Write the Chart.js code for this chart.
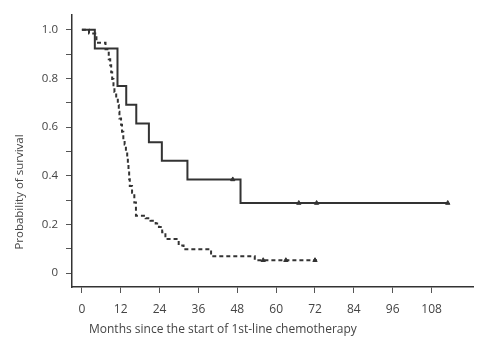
<!DOCTYPE html>
<html>
<head>
<meta charset="utf-8">
<script src="https://cdn.jsdelivr.net/npm/chart.js@4"></script>
<style>
  html, body { margin:0; padding:0; background:#fff; }
  #km { display:block; }
</style>
</head>
<body>
<canvas id="km" width="478" height="340"></canvas>
<script>
// Kaplan-Meier curves, values
const xTicks = [0, 12, 24, 36, 48, 60, 72, 84, 96, 108];
const yTicks = [0, 0.1, 0.2, 0.3, 0.4, 0.5, 0.6, 0.7, 0.8, 0.9, 1.0];

// solid group (n = 13)
const solidTimes = [0, 4, 11, 13.7, 16.8, 20.7, 24.7, 32.6, 49, 113];
const solidSurv  = [1, 0.923, 0.769, 0.692, 0.615, 0.538, 0.462, 0.385, 0.288, 0.288];
const solidCensTimes = [46.6, 67, 72.5, 113];
const solidCensSurv  = [0.385, 0.288, 0.288, 0.288];

// dashed group
const dashTimes = [0, 2.2, 4.5, 7.3, 8.3, 8.75, 9.05, 9.36, 9.76, 10.06, 10.6, 11.1, 11.4, 11.6, 12.1, 12.4, 12.8, 13.2, 13.6, 14.0, 14.2, 14.4, 14.6, 14.8, 15.5, 16.2, 16.7, 19.7, 21.2, 22.8, 23.8, 24.8, 25.8, 29.9, 31.4, 39.9, 53.4, 72.6];
const dashSurv  = [1, 0.985, 0.947, 0.92, 0.879, 0.854, 0.825, 0.798, 0.772, 0.744, 0.717, 0.691, 0.663, 0.635, 0.61, 0.581, 0.554, 0.528, 0.5, 0.473, 0.447, 0.419, 0.386, 0.358, 0.33, 0.29, 0.236, 0.225, 0.215, 0.204, 0.19, 0.168, 0.14, 0.114, 0.098, 0.069, 0.053, 0.053];
const dashCensTimes = [56, 63, 72];
const dashCensSurv  = [0.053, 0.053, 0.053];

const xTitle = 'Months since the start of 1st-line chemotherapy';
const yTitle = 'Probability of survival';

const pts = (t, s) => t.map((v, i) => ({x: v, y: s[i]}));
const ink = '#333', txt = '#444';
const fnt = '"Open Sans", "Noto Sans", sans-serif';

// titles sit off-centre in the original, so draw them by hand
const titles = {
  id: 'titles',
  afterDraw(c) {
    const ctx = c.ctx;
    ctx.save();
    ctx.fillStyle = txt;
    ctx.font = '12px ' + fnt;
    ctx.textBaseline = 'middle';
    ctx.textAlign = 'left';
    ctx.fillText(xTitle, 89, 330);
    ctx.translate(20, 192);
    ctx.rotate(-Math.PI / 2);
    ctx.textAlign = 'center';
    ctx.font = '11.5px ' + fnt;
    ctx.fillText(yTitle, 0, 0);
    ctx.restore();
  }
};

new Chart(document.getElementById('km'), {
  type: 'line',
  data: {
    datasets: [
      {label:'solid', data:pts(solidTimes, solidSurv), stepped:'before', borderColor:ink, borderWidth:2, pointRadius:0, fill:false},
      {label:'dashed', data:pts(dashTimes, dashSurv), stepped:'before', borderColor:ink, borderWidth:2, borderDash:[4,3], pointRadius:0, fill:false},
      {label:'cens1', data:pts(solidCensTimes, solidCensSurv), showLine:false, pointStyle:'triangle', pointRadius:2.5, backgroundColor:ink, borderColor:ink, borderWidth:1},
      {label:'cens2', data:pts(dashCensTimes, dashCensSurv), showLine:false, pointStyle:'triangle', pointRadius:2.5, backgroundColor:ink, borderColor:ink, borderWidth:1}
    ]
  },
  options: {
    responsive: false,
    animation: false,
    layout: {padding: {top: 12, right: 0, left: 0, bottom: 0}},
    plugins: {legend: {display: false}, tooltip: {enabled: false}},
    scales: {
      x: {
        type: 'linear', min: -3.05, max: 120.8,
        afterBuildTicks: s => { s.ticks = xTicks.map(v => ({value: v})) },
        afterFit: s => { s.height = 53 },
        grid: {drawOnChartArea: false, tickLength: 6, color: '#555'},
        border: {color: ink, width: 1.5},
        ticks: {color: txt, padding: 9, font: {family: fnt, size: 12}, maxRotation: 0}
      },
      y: {
        type: 'linear', min: -0.057, max: 1.061,
        afterBuildTicks: s => { s.ticks = yTicks.map(v => ({value: v})) },
        afterFit: s => { s.width = 72 },
        grid: {drawOnChartArea: false, tickLength: 6, color: '#555'},
        border: {color: ink, width: 1.5},
        ticks: {
          color: txt, padding: 8, font: {family: fnt, size: 11.5},
          callback: v => { const k = Math.round(v * 10); return k % 2 ? '' : (k === 0 ? '0' : (k / 10).toFixed(1)) }
        }
      }
    }
  },
  plugins: [titles]
});
</script>
</body>
</html>
